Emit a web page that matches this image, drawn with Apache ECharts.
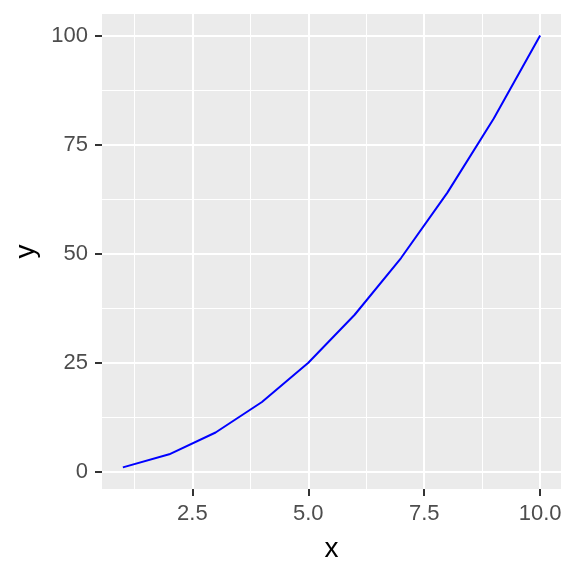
<!DOCTYPE html>
<html>
<head>
<meta charset="utf-8">
<script src="https://cdn.jsdelivr.net/npm/echarts@6/dist/echarts.min.js"></script>
<style>
  html, body { margin: 0; padding: 0; background: #fff; }
  #chart { width: 576px; height: 576px; }
</style>
</head>
<body>
<div id="chart"></div>
<script>
// data: y = x^2
const xValues = [1, 2, 3, 4, 5, 6, 7, 8, 9, 10];
const yValues = [1, 4, 9, 16, 25, 36, 49, 64, 81, 100];

// ticks / grid lines
const xTicks = [2.5, 5, 7.5, 10];
const xMinor = [1.25, 3.75, 6.25, 8.75];
const yTicks = [0, 25, 50, 75, 100];
const yMinor = [12.5, 37.5, 62.5, 87.5];

// ggplot-style 5% expansion
const xMin = 0.55, xMax = 10.45;
const yMin = -3.95, yMax = 104.95;

const font = 'Liberation Sans, Arial, sans-serif';
const chart = echarts.init(document.getElementById('chart'));

const majorAxis = (vals, min, max, extra) => Object.assign({
    type: 'value',
    min: min,
    max: max,
    axisLine: { show: false, onZero: false },
    axisTick: {
        show: true,
        inside: false,
        customValues: vals,
        length: 7,
        lineStyle: { color: '#333333', width: 2 }
    },
    axisLabel: {
        customValues: vals,
        fontFamily: font,
        fontSize: 22,
        color: '#4D4D4D',
        margin: 14
    },
    splitLine: { show: true, lineStyle: { color: '#FFFFFF', width: 2 } },
    z: 1
}, extra);

const minorAxis = (vals, min, max, pos) => ({
    type: 'value',
    min: min,
    max: max,
    position: pos,
    axisLine: { show: false, onZero: false },
    axisTick: { show: false, customValues: vals },
    axisLabel: { show: false, customValues: vals },
    splitLine: { show: true, lineStyle: { color: '#FFFFFF', width: 1 } },
    z: 0
});

let option = {
    animation: false,
    backgroundColor: '#FFFFFF',
    grid: {
        left: 102,
        right: 15,
        top: 14,
        bottom: 87,
        show: true,
        backgroundColor: '#EBEBEB',
        borderWidth: 0,
        containLabel: false,
        outerBoundsMode: 'none'
    },
    xAxis: [
        majorAxis(xTicks, xMin, xMax, {
            position: 'bottom',
            name: 'x',
            nameLocation: 'middle',
            nameGap: 46,
            nameTextStyle: { fontFamily: font, fontSize: 28, color: '#000000' },
            axisLabel: {
                customValues: xTicks,
                fontFamily: font,
                fontSize: 22,
                color: '#4D4D4D',
                margin: 14,
                formatter: v => v.toFixed(1)
            }
        }),
        minorAxis(xMinor, xMin, xMax, 'top')
    ],
    yAxis: [
        majorAxis(yTicks, yMin, yMax, {
            position: 'left',
            name: 'y',
            nameLocation: 'middle',
            nameGap: 53,
            nameTextStyle: { fontFamily: font, fontSize: 28, color: '#000000' }
        }),
        minorAxis(yMinor, yMin, yMax, 'right')
    ],
    series: [
        {
            type: 'line',
            xAxisIndex: 0,
            yAxisIndex: 0,
            symbol: 'none',
            smooth: false,
            lineStyle: { color: '#0000FF', width: 2 },
            data: xValues.map((x, i) => [x, yValues[i]])
        }
    ]
};
chart.setOption(option);
</script>
</body>
</html>
